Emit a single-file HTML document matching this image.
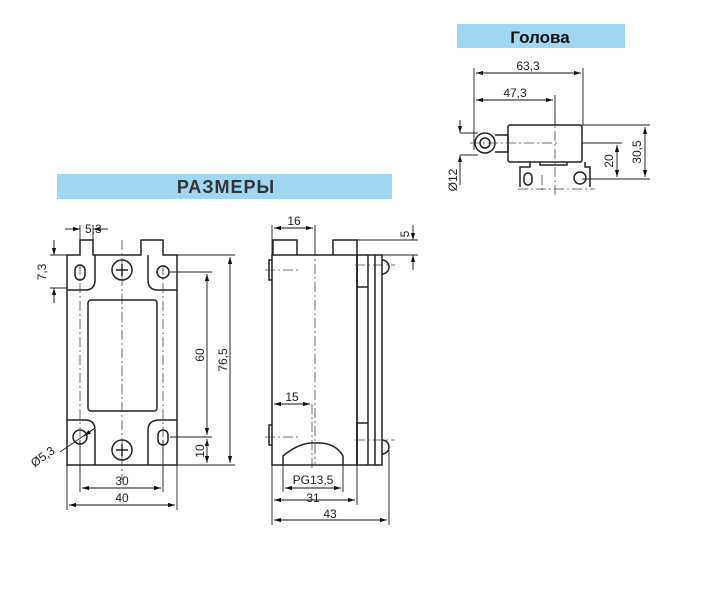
<!DOCTYPE html>
<html><head><meta charset="utf-8"><style>body{margin:0;background:#fff}svg{display:block}text{font-family:"Liberation Sans",sans-serif;fill:#222}</style></head><body>
<svg width="706" height="600" viewBox="0 0 706 600" xmlns="http://www.w3.org/2000/svg">
<defs><marker id="a" viewBox="0 0 10 6" refX="10" refY="3" markerWidth="8" markerHeight="5" orient="auto-start-reverse"><path d="M0,0L10,3L0,6z" fill="#111"/></marker></defs>
<rect x="57" y="174" width="335" height="25" fill="#9fd6f2"/>
<text x="226" y="193" font-size="18" font-weight="bold" text-anchor="middle" letter-spacing="1" style="fill:#333">РАЗМЕРЫ</text>
<rect x="457" y="24" width="168" height="24" fill="#9fd6f2"/>
<text x="540" y="43" font-size="17" font-weight="bold" text-anchor="middle" style="fill:#111">Голова</text>
<g fill="none" stroke="#222" stroke-width="1.5">
<path d="M67,465V255H80V240H93V255H141V240H163V255H177V465Z"/>
<path d="M95,255V280Q95,290 85,290H67M148,255V280Q148,290 158,290H177M67,420H85Q95,420 95,430V465M177,420H160Q148,420 148,430V465"/>
<rect x="88" y="300" width="69" height="111" rx="3"/>
<circle cx="122" cy="270" r="10"/><circle cx="122" cy="450" r="10"/>
<path d="M116,270h12M122,264v12M116,450h12M122,444v12"/>
<rect x="75" y="265" width="10" height="15" rx="5"/><circle cx="163" cy="272" r="6"/>
<circle cx="80" cy="437" r="7"/><rect x="158" y="430" width="10" height="15" rx="5"/>
<rect x="272" y="255" width="85" height="210"/>
<path d="M273,255V240H297V255M333,255V240H357V255"/>
<rect x="357" y="255" width="25" height="210"/><path d="M368,255V465M375,255V465"/>
<path d="M357,255V287H368M357,465V423H368"/>
<path d="M382,260a5,5 0 0 1 0,14M382,440a5,5 0 0 1 0,14M272,260h-3v20h3M272,425h-3v20h3"/>
<path d="M283,465V456Q300,442 315,443Q335,442 343,456V465"/>
<circle cx="485" cy="143" r="10"/><circle cx="485" cy="143" r="5"/>
<path d="M495,135H508V152H495"/>
<rect x="508" y="125" width="74" height="37" rx="2"/>
<path d="M520,187V167H530V162M585,162V167H590V187M540,162V165H567V162"/>
<rect x="524" y="173" width="8" height="12" rx="4"/><circle cx="580" cy="178" r="6"/>
</g>
<g fill="none" stroke="#444" stroke-width="0.8" stroke-dasharray="10,3,2,3">
<path d="M122,240V480M80,265V485M163,265V485M315,228V465M312,404V470M265,270H300M265,437H300M355,265H395M355,440H395M470,143H560M555,95V195M542,175V190M518,189H595"/>
</g>
<g fill="none" stroke="#222" stroke-width="0.9">
<path d="M177,255H235M170,272H212M170,437H212M177,465H235M67,465V510M177,465V510M80,440V492M163,440V492M50,255H67M50,288H67M80,225V240M93,225V240"/>
<path d="M272,225V258M315,225V255M357,255H418M357,240H418M272,400V525M283,465V492M343,465V492M357,465V505M389,450V525"/>
<path d="M474,68V150M583,68V125M555,95V125M582,125H650M582,179H650M582,143H622M460,133H478M460,155H478"/>
<path d="M60,452L95,428"/>
</g>
<g stroke="#111" stroke-width="0.9" marker-start="url(#a)" marker-end="url(#a)">
<line x1="230" y1="257" x2="230" y2="463"/>
<line x1="207" y1="274" x2="207" y2="435"/>
<line x1="82" y1="488" x2="161" y2="488"/>
<line x1="69" y1="505" x2="175" y2="505"/>
<line x1="274" y1="228" x2="313" y2="228"/>
<line x1="274" y1="404" x2="310" y2="404"/>
<line x1="285" y1="488" x2="341" y2="488"/>
<line x1="274" y1="500" x2="355" y2="500"/>
<line x1="274" y1="520" x2="387" y2="520"/>
<line x1="476" y1="73" x2="581" y2="73"/>
<line x1="476" y1="100" x2="553" y2="100"/>
<line x1="645" y1="127" x2="645" y2="177"/>
<line x1="617" y1="145" x2="617" y2="177"/>
</g>
<g stroke="#111" stroke-width="0.9">
<line x1="207" y1="439" x2="207" y2="463" marker-start="url(#a)" marker-end="url(#a)"/>
<line x1="413" y1="225" x2="413" y2="240" marker-end="url(#a)"/>
<line x1="413" y1="270" x2="413" y2="255" marker-end="url(#a)"/>
<line x1="54" y1="240" x2="54" y2="255" marker-end="url(#a)"/>
<line x1="54" y1="303" x2="54" y2="288" marker-end="url(#a)"/>
<line x1="65" y1="229" x2="80" y2="229" marker-end="url(#a)"/>
<line x1="108" y1="229" x2="93" y2="229" marker-end="url(#a)"/>
<line x1="460" y1="120" x2="460" y2="133" marker-end="url(#a)"/>
<line x1="460" y1="185" x2="460" y2="155" marker-end="url(#a)"/>
<line x1="95" y1="428" x2="84" y2="436" marker-end="url(#a)"/>
</g>
<g font-size="12">
<text x="85" y="233">5,3</text>
<text x="46" y="272" transform="rotate(-90 46 272)" text-anchor="middle">7,3</text>
<text x="122" y="485" text-anchor="middle">30</text>
<text x="122" y="502" text-anchor="middle">40</text>
<text x="204" y="355" transform="rotate(-90 204 355)" text-anchor="middle">60</text>
<text x="227" y="360" transform="rotate(-90 227 360)" text-anchor="middle">76,5</text>
<text x="204" y="451" transform="rotate(-90 204 451)" text-anchor="middle">10</text>
<text x="45" y="460" transform="rotate(-35 45 460)" text-anchor="middle">Ø5,3</text>
<text x="294" y="225" text-anchor="middle">16</text>
<text x="292" y="401" text-anchor="middle">15</text>
<text x="313" y="484" text-anchor="middle">PG13,5</text>
<text x="313" y="502" text-anchor="middle">31</text>
<text x="330" y="518" text-anchor="middle">43</text>
<text x="409" y="234" transform="rotate(-90 409 234)" text-anchor="middle">5</text>
<text x="528" y="70" text-anchor="middle">63,3</text>
<text x="515" y="97" text-anchor="middle">47,3</text>
<text x="641" y="152" transform="rotate(-90 641 152)" text-anchor="middle">30,5</text>
<text x="613" y="161" transform="rotate(-90 613 161)" text-anchor="middle">20</text>
<text x="457" y="180" transform="rotate(-90 457 180)" text-anchor="middle">Ø12</text>
</g>
</svg>
</body></html>
